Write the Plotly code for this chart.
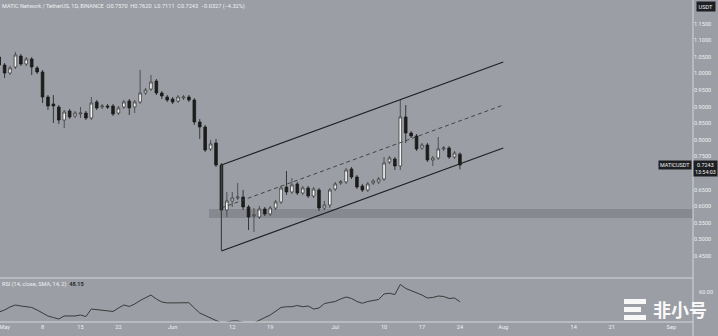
import pandas as pd
import plotly.graph_objects as go

# ---------------- data ----------------
dates = pd.date_range("2023-04-30", "2023-07-24", freq="D")

opens = [1.0496, 1.0255, 1.0014, 1.0195, 1.0526, 1.0285, 1.0436, 1.0165, 1.0044, 0.9291,
         0.9080, 0.8990, 0.8598, 0.8870, 0.8719, 0.8779, 0.8809, 0.8659, 0.9141, 0.8990,
         0.9020, 0.9020, 0.8809, 0.8990, 0.9171, 0.8990, 0.9141, 0.9412, 0.9532, 0.9773,
         0.9412, 0.9291, 0.9231, 0.9171, 0.9261, 0.9291, 0.9201, 0.8538, 0.8388, 0.7725,
         0.7906, 0.7243, 0.5888, 0.6159, 0.6249, 0.6279, 0.5978, 0.5707, 0.5677, 0.5918,
         0.5767, 0.5948, 0.6129, 0.6580, 0.6430, 0.6671, 0.6400, 0.6550, 0.6309, 0.6490,
         0.5948, 0.6038, 0.6520, 0.6701, 0.6731, 0.7123, 0.6882, 0.6610, 0.6490, 0.6701,
         0.6731, 0.6821, 0.7333, 0.7424, 0.7213, 0.8689, 0.8207, 0.8116, 0.7755, 0.7845,
         0.7394, 0.7454, 0.7725, 0.7755, 0.7484, 0.7570]
highs = [1.0586, 1.0315, 1.0225, 1.0647, 1.0586, 1.0496, 1.0496, 1.0225, 1.0104, 0.9351,
         0.9351, 0.9050, 0.8900, 0.8930, 0.8870, 0.8990, 0.8870, 0.9291, 0.9201, 0.9080,
         0.9080, 0.9080, 0.9020, 0.9201, 0.9231, 0.9201, 1.0104, 0.9562, 0.9954, 0.9833,
         0.9472, 0.9351, 0.9291, 0.9351, 0.9351, 0.9351, 0.9261, 0.8629, 0.8448, 0.7996,
         0.8026, 0.7303, 0.6430, 0.6430, 0.6701, 0.6490, 0.6038, 0.5948, 0.6008, 0.5978,
         0.6008, 0.6189, 0.6610, 0.7062, 0.6851, 0.6731, 0.6610, 0.6610, 0.6580, 0.6550,
         0.6159, 0.6550, 0.6731, 0.6791, 0.7153, 0.7183, 0.6942, 0.6671, 0.6731, 0.6821,
         0.6882, 0.7484, 0.7514, 0.7484, 0.9201, 0.9050, 0.8267, 0.8177, 0.7906, 0.7906,
         0.7514, 0.8086, 0.7815, 0.7815, 0.7665, 0.7620]
lows = [1.0195, 0.9863, 0.9954, 1.0135, 1.0225, 1.0225, 0.9954, 0.9984, 0.9110, 0.8900,
        0.8508, 0.8478, 0.8357, 0.8629, 0.8659, 0.8659, 0.8598, 0.8598, 0.8900, 0.8930,
        0.8930, 0.8719, 0.8749, 0.8930, 0.8749, 0.8809, 0.9080, 0.9351, 0.9472, 0.9351,
        0.9231, 0.9141, 0.9080, 0.9110, 0.9201, 0.9141, 0.8448, 0.8026, 0.7635, 0.7665,
        0.7183, 0.4683, 0.5677, 0.5978, 0.6189, 0.5888, 0.5285, 0.5225, 0.5617, 0.5707,
        0.5707, 0.5888, 0.6068, 0.6339, 0.6369, 0.6339, 0.6339, 0.6249, 0.6249, 0.5858,
        0.5888, 0.5948, 0.6460, 0.6641, 0.6671, 0.6821, 0.6520, 0.6430, 0.6430, 0.6641,
        0.6671, 0.6761, 0.7273, 0.7092, 0.7092, 0.7906, 0.8056, 0.7665, 0.7695, 0.7333,
        0.7213, 0.7394, 0.7665, 0.7424, 0.7424, 0.7111]
closes = [1.0255, 1.0014, 1.0165, 1.0556, 1.0285, 1.0436, 1.0195, 1.0044, 0.9291, 0.9020,
          0.9020, 0.8598, 0.8839, 0.8689, 0.8809, 0.8809, 0.8659, 0.9110, 0.8960, 0.9020,
          0.8990, 0.8779, 0.8960, 0.9141, 0.8960, 0.9141, 0.9412, 0.9502, 0.9743, 0.9412,
          0.9321, 0.9201, 0.9141, 0.9291, 0.9291, 0.9201, 0.8538, 0.8388, 0.7695, 0.7876,
          0.7243, 0.5888, 0.6159, 0.6249, 0.6279, 0.5978, 0.5677, 0.5737, 0.5918, 0.5767,
          0.5948, 0.6129, 0.6550, 0.6430, 0.6641, 0.6400, 0.6550, 0.6309, 0.6520, 0.5948,
          0.6038, 0.6490, 0.6671, 0.6731, 0.7092, 0.6882, 0.6580, 0.6490, 0.6671, 0.6761,
          0.6821, 0.7303, 0.7454, 0.7213, 0.8689, 0.8207, 0.8116, 0.7725, 0.7845, 0.7394,
          0.7454, 0.7725, 0.7755, 0.7484, 0.7604, 0.7243]

rsi = [35.6, 38.0, 41.7, 44.1, 42.9, 41.7, 41.1, 38.0, 34.3, 30.7,
       28.8, 27.0, 30.7, 30.7, 30.7, 31.9, 30.0, 39.2, 38.6, 38.0,
       37.4, 36.2, 40.4, 44.1, 42.3, 45.3, 49.6, 52.7, 56.3, 51.4,
       47.8, 46.6, 46.6, 46.9, 46.9, 46.9, 40.4, 34.3, 31.3, 27.9,
       24.6, 22.1, 23.3, 24.6, 24.6, 22.7, 20.9, 22.1, 25.8, 28.8,
       31.9, 36.8, 41.1, 42.0, 42.0, 43.5, 42.0, 42.9, 39.2, 40.4,
       45.9, 47.2, 48.4, 51.4, 53.9, 52.1, 48.4, 46.2, 48.4, 49.6,
       50.8, 57.6, 58.4, 56.9, 69.2, 64.3, 61.8, 59.4, 56.3, 52.7,
       53.3, 55.1, 54.5, 52.1, 52.7, 48.15]

# parallel channel drawing (anchor dates / prices)
chan_dates = ["2023-06-10", "2023-08-01"]
chan_upper = [0.7243, 1.0345]
chan_lower = [0.4653, 0.7755]
chan_mid = [(a + b) / 2 for a, b in zip(chan_upper, chan_lower)]

# support zone
zone_low, zone_high = 0.5647, 0.5918

price_ticks = [0.45, 0.50, 0.55, 0.60, 0.65, 0.75, 0.80, 0.85, 0.90, 0.95, 1.00, 1.05, 1.10, 1.15]
time_tickvals = ["2023-05-01", "2023-05-08", "2023-05-15", "2023-05-22", "2023-06-01", "2023-06-12",
                 "2023-06-19", "2023-07-01", "2023-07-10", "2023-07-17", "2023-07-24", "2023-08-01",
                 "2023-08-14", "2023-08-21", "2023-09-01"]
time_ticktext = ["May", "8", "15", "22", "Jun", "12", "19", "Jul", "10", "17", "24", "Aug", "14", "21", "Sep"]

# ---------------- figure ----------------
W, H = 718, 336
ML, MR, MT, MB = 0, 25, 0, 14
PW, PH = W - ML - MR, H - MT - MB
split = (322 - 278) / PH

def px(xp):
    return (xp - ML) / PW

def py(yp):
    return (PH - (yp - MT)) / PH

BG = "#9b9ea5"
TXT = "#eef0f2"
LINE = "#1f1f1f"

fig = go.Figure()

fig.add_trace(go.Candlestick(
    x=dates, open=opens, high=highs, low=lows, close=closes,
    increasing=dict(line=dict(color="#3c3c3c", width=0.8), fillcolor="#f4f4f4"),
    decreasing=dict(line=dict(color="#1c1c1c", width=0.8), fillcolor="#1c1c1c"),
    whiskerwidth=0, showlegend=False, hoverinfo="skip",
    xaxis="x", yaxis="y",
))

# channel lines
fig.add_trace(go.Scatter(x=chan_dates, y=chan_upper, mode="lines",
                         line=dict(color=LINE, width=1.1), showlegend=False, hoverinfo="skip"))
fig.add_trace(go.Scatter(x=chan_dates, y=chan_lower, mode="lines",
                         line=dict(color=LINE, width=1.1), showlegend=False, hoverinfo="skip"))
fig.add_trace(go.Scatter(x=chan_dates, y=chan_mid, mode="lines",
                         line=dict(color="#3a3a3a", width=0.9, dash="4px,3px"), showlegend=False,
                         hoverinfo="skip"))
fig.add_trace(go.Scatter(x=[chan_dates[0], chan_dates[0]], y=[chan_lower[0], chan_upper[0]], mode="lines",
                         line=dict(color="#444444", width=1), showlegend=False, hoverinfo="skip"))

# RSI
fig.add_trace(go.Scatter(x=dates, y=rsi, mode="lines", line=dict(color="#3a3a3a", width=1),
                         showlegend=False, hoverinfo="skip", xaxis="x", yaxis="y2"))

shapes = [
    # support zone
    dict(type="rect", xref="paper", x0=px(209), x1=1, yref="y", y0=zone_low, y1=zone_high,
         fillcolor="#7f8289", opacity=0.75, line=dict(width=0), layer="below"),
    # pane separators
    dict(type="line", xref="paper", x0=0, x1=1, yref="paper", y0=split, y1=split,
         line=dict(color="#d4d6da", width=1)),
    dict(type="line", xref="paper", x0=0, x1=1, yref="paper", y0=0, y1=0,
         line=dict(color="#d4d6da", width=1)),
    dict(type="line", xref="paper", x0=1, x1=1, yref="paper", y0=py(336), y1=1,
         line=dict(color="#d4d6da", width=1)),
]

# watermark logo bars
for (x0, x1, y0, y1) in [(624, 646, 299, 304), (624, 641, 307, 312), (624, 646, 315, 320)]:
    shapes.append(dict(type="rect", xref="paper", yref="paper",
                       x0=px(x0), x1=px(x1), y0=py(y1), y1=py(y0),
                       fillcolor="rgba(255,255,255,0.92)", line=dict(width=0)))

annotations = [
    dict(text="MATIC Network / TetherUS, 1D, BINANCE  O0.7570  H0.7620  L0.7111  C0.7243  −0.0327 (−4.32%)",
         xref="paper", yref="paper", x=px(0), y=py(6), xanchor="left", yanchor="middle",
         showarrow=False, font=dict(size=5.6, color=TXT, family="Roboto")),
    dict(text="RSI (14, close, SMA, 14, 2)  <b><span style='color:#2a2a2a'>48.15</span></b>",
         xref="paper", yref="paper", x=px(0), y=py(284), xanchor="left", yanchor="middle",
         showarrow=False, font=dict(size=5.6, color=TXT, family="Roboto")),
    dict(text="USDT", xref="paper", yref="paper", x=px(706), y=py(7), xanchor="center", yanchor="middle",
         showarrow=False, bgcolor="#1e1f22", borderpad=1.5, font=dict(size=5.6, color=TXT, family="Roboto")),
    dict(text="MATICUSDT", xref="paper", yref="paper", x=px(692), y=py(164.5), xanchor="right", yanchor="middle",
         showarrow=False, bgcolor="#1e1f22", borderpad=1, font=dict(size=5.4, color=TXT, family="Roboto")),
    dict(text="0.7243<br>13:54:03", xref="paper", yref="paper", x=px(705.5), y=py(168), xanchor="center",
         yanchor="middle", showarrow=False, bgcolor="#1e1f22", borderpad=1, align="center",
         font=dict(size=5.4, color=TXT, family="Roboto")),
    dict(text="60.00", xref="paper", yref="paper", x=px(697), y=py(292), xanchor="left", yanchor="middle",
         showarrow=False, font=dict(size=5.6, color=TXT, family="Roboto")),
    dict(text="<b>非小号</b>", xref="paper", yref="paper", x=px(680), y=py(309), xanchor="center",
         yanchor="middle", showarrow=False,
         font=dict(size=18, color="rgba(255,255,255,0.95)", family="Noto Sans CJK SC")),
]

fig.update_layout(
    width=W, height=H,
    margin=dict(l=ML, r=MR, t=MT, b=MB),
    paper_bgcolor=BG, plot_bgcolor=BG,
    showlegend=False,
    shapes=shapes, annotations=annotations,
    xaxis=dict(
        type="date", anchor="y2",
        range=["2023-04-30 03:37", "2023-09-05 00:00"],
        tickvals=time_tickvals, ticktext=time_ticktext,
        tickfont=dict(size=5.6, color=TXT, family="Roboto"),
        ticklabeloverflow="allow",
        showgrid=False, zeroline=False, showline=False, ticks="",
        rangeslider=dict(visible=False), fixedrange=True,
    ),
    yaxis=dict(
        domain=[split, 1], side="right", anchor="x",
        range=[0.3839, 1.2213],
        tickvals=price_ticks, ticktext=[f"{v:.4f}" for v in price_ticks],
        tickfont=dict(size=5.6, color=TXT, family="Roboto"),
        showgrid=False, zeroline=False, showline=False, ticks="", ticklabelposition="outside",
    ),
    yaxis2=dict(
        domain=[0, split], side="right", anchor="x",
        range=[23.34, 77.1],
        showticklabels=False, showgrid=False, zeroline=False, showline=False, ticks="",
    ),
)

fig.write_html("out.html")
